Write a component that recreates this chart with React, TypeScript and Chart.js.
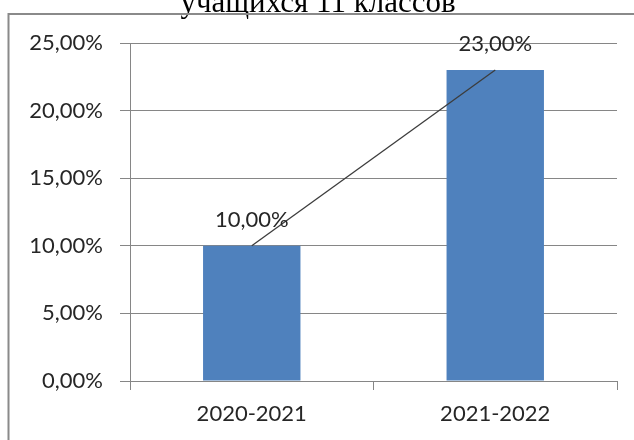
import React, { useEffect, useRef } from "react";
import { Chart, registerables } from "chart.js";

Chart.register(...registerables);

const titleText = "учащихся 11 классов";
const categories = ["2020-2021", "2021-2022"];
const barValues = [10, 23];
const lineValues = [10, 23];
const yTicks = [0, 5, 10, 15, 20, 25];

const fmt = (v: number) => v.toFixed(2).replace(".", ",") + "%";

const FONT = "Lato";
const TEXT = "#262626";
const GRID = "#868686";

const framePlugin = {
  id: "frame",
  beforeDraw(chart: any) {
    const ctx = chart.ctx;
    ctx.save();
    ctx.fillStyle = "#ffffff";
    ctx.fillRect(0, 0, chart.width, chart.height);
    ctx.fillStyle = "#000000";
    ctx.font = "31px 'Liberation Serif'";
    ctx.textAlign = "center";
    ctx.textBaseline = "alphabetic";
    ctx.fillText(titleText, 318, 12);
    ctx.strokeStyle = "#8a8a8a";
    ctx.lineWidth = 2;
    ctx.beginPath();
    ctx.moveTo(8.5, 460);
    ctx.lineTo(8.5, 14);
    ctx.lineTo(660, 14);
    ctx.stroke();
    ctx.restore();
  },
};

const labelPlugin = {
  id: "barLabels",
  afterDatasetsDraw(chart: any) {
    const ctx = chart.ctx;
    const meta = chart.getDatasetMeta(0);
    ctx.save();
    ctx.fillStyle = TEXT;
    ctx.font = `22px ${FONT}`;
    ctx.textAlign = "center";
    ctx.textBaseline = "middle";
    meta.data.forEach((el: any, i: number) => {
      ctx.fillText(fmt(barValues[i]), el.x, el.y - 26);
    });
    ctx.restore();
  },
};

export default function App() {
  const ref = useRef<HTMLCanvasElement | null>(null);
  useEffect(() => {
    if (!ref.current) return;
    const chart = new Chart(ref.current, {
      type: "bar",
      data: {
        labels: categories,
        datasets: [
          {
            type: "bar",
            data: barValues,
            backgroundColor: "#4f81bd",
            barPercentage: 0.8,
            categoryPercentage: 0.5,
            order: 1,
          },
          {
            type: "line",
            data: lineValues,
            borderColor: "#3c3c3c",
            borderWidth: 1.3,
            pointRadius: 0,
            fill: false,
            order: 0,
          } as any,
        ],
      },
      options: {
        responsive: false,
        animation: false,
        layout: { padding: { left: 0, top: 43, right: 17, bottom: 0 } },
        plugins: {
          legend: { display: false },
          tooltip: { enabled: false },
          title: { display: false },
        },
        scales: {
          x: {
            offset: true,
            grid: {
              offset: true,
              display: true,
              drawOnChartArea: false,
              drawTicks: true,
              tickLength: 9,
              color: GRID,
            },
            border: { display: true, color: GRID, width: 1 },
            ticks: {
              color: TEXT,
              font: { family: FONT, size: 22 },
              padding: 11,
            },
            afterFit: (scale: any) => {
              scale.height = 59;
            },
          },
          y: {
            min: 0,
            max: 25,
            afterBuildTicks: (scale: any) => {
              scale.ticks = yTicks.map((v) => ({ value: v }));
            },
            grid: {
              color: GRID,
              drawTicks: true,
              tickLength: 10,
            },
            border: { display: true, color: GRID, width: 1 },
            ticks: {
              color: TEXT,
              font: { family: FONT, size: 22 },
              padding: 17,
              callback: (v: any) => fmt(Number(v)),
            },
            afterFit: (scale: any) => {
              scale.width = 130;
            },
          },
        },
      },
      plugins: [framePlugin, labelPlugin],
    });
    return () => chart.destroy();
  }, []);
  return (
    <div style={{ position: "absolute", left: 0, top: 0, width: 634, height: 440 }}>
      <canvas ref={ref} width={634} height={440} style={{ display: "block" }} />
    </div>
  );
}
